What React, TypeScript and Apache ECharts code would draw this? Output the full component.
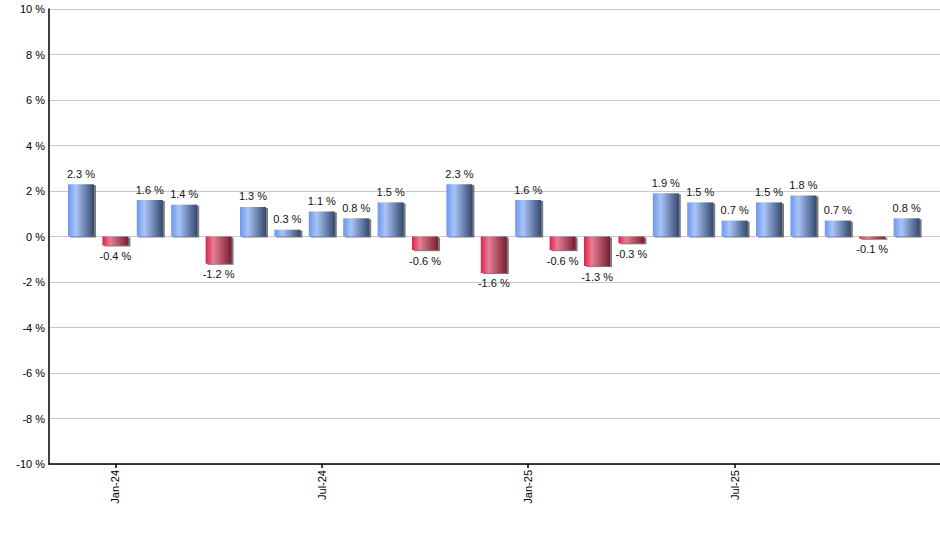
import { useEffect, useRef } from 'react';
import * as echarts from 'echarts';

// monthly change, Dec-23 .. Dec-25
const months = [
  'Dec-23', 'Jan-24', 'Feb-24', 'Mar-24', 'Apr-24', 'May-24', 'Jun-24', 'Jul-24', 'Aug-24',
  'Sep-24', 'Oct-24', 'Nov-24', 'Dec-24', 'Jan-25', 'Feb-25', 'Mar-25', 'Apr-25', 'May-25',
  'Jun-25', 'Jul-25', 'Aug-25', 'Sep-25', 'Oct-25', 'Nov-25', 'Dec-25',
];
const changes = [
  2.3, -0.4, 1.6, 1.4, -1.2, 1.3, 0.3, 1.1, 0.8, 1.5, -0.6, 2.3, -1.6,
  1.6, -0.6, -1.3, -0.3, 1.9, 1.5, 0.7, 1.5, 1.8, 0.7, -0.1, 0.8,
];
const shownMonths = ['Jan-24', 'Jul-24', 'Jan-25', 'Jul-25'];

const FONT = '"Liberation Sans", Arial, sans-serif';

const blueFill = new echarts.graphic.LinearGradient(0, 0, 1, 0, [
  { offset: 0, color: '#6c96ee' },
  { offset: 0.3, color: '#a9c5f7' },
  { offset: 1, color: '#34486f' },
]);
const redFill = new echarts.graphic.LinearGradient(0, 0, 1, 0, [
  { offset: 0, color: '#de2248' },
  { offset: 0.3, color: '#e57f95' },
  { offset: 1, color: '#761d32' },
]);

export default function App() {
  const ref = useRef<HTMLDivElement | null>(null);

  useEffect(() => {
    if (!ref.current) return;
    const chart = echarts.init(ref.current, undefined, { renderer: 'svg' });
    const tickIdx = shownMonths.map(m => months.indexOf(m));

    chart.setOption({
      animation: false,
      grid: { left: 49, right: 0, top: 9, bottom: 86 },
      xAxis: {
        type: 'value',
        min: -0.93,
        max: 24.97,
        splitLine: { show: false },
        axisLine: { onZero: false, lineStyle: { color: '#000', width: 1.5 } },
        axisTick: {
          show: true,
          length: 4,
          customValues: tickIdx,
          lineStyle: { color: '#000', width: 1.5 },
        },
        axisLabel: {
          customValues: tickIdx,
          rotate: 90,
          margin: 6,
          color: '#000',
          fontSize: 11,
          fontFamily: FONT,
          formatter: (v: number) => months[Math.round(v)] ?? '',
        },
      },
      yAxis: {
        type: 'value',
        min: -10,
        max: 10,
        interval: 2,
        axisLine: { show: true, onZero: false, lineStyle: { color: '#000', width: 1.5 } },
        axisTick: { show: false },
        splitLine: { lineStyle: { color: '#c8c8c8', width: 1 } },
        axisLabel: {
          margin: 4,
          color: '#000',
          fontSize: 11,
          fontFamily: FONT,
          formatter: (v: number) => `${v} %`,
        },
      },
      series: [
        {
          type: 'bar',
          barWidth: 26,
          data: changes.map((v, i) => ({
            value: [i, v],
            itemStyle: { color: v < 0 ? redFill : blueFill },
            label: { position: v < 0 ? 'bottom' : 'top' },
          })),
          itemStyle: {
            shadowColor: 'rgba(90,90,90,0.8)',
            shadowOffsetX: 2,
            shadowOffsetY: 1,
            shadowBlur: 1,
          },
          label: {
            show: true,
            distance: 5,
            color: '#111',
            fontSize: 11,
            fontFamily: FONT,
            formatter: (p: any) => `${p.value[1].toFixed(1)} %`,
          },
        },
      ],
    });

    const handleResize = () => chart.resize();
    window.addEventListener('resize', handleResize);
    return () => {
      window.removeEventListener('resize', handleResize);
      chart.dispose();
    };
  }, []);

  return (
    <div
      ref={ref}
      style={{ position: 'fixed', left: 0, top: 0, width: 940, height: 550, background: '#fff' }}
    />
  );
}
